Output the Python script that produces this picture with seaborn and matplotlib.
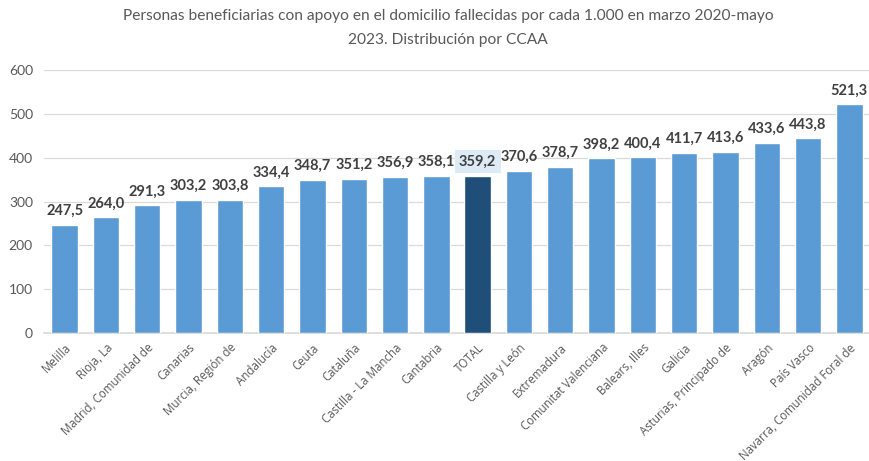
import matplotlib
matplotlib.use("Agg")
import matplotlib.pyplot as plt
import seaborn as sns
import pandas as pd

regiones = ["Melilla", "Rioja, La", "Madrid, Comunidad de", "Canarias", "Murcia, Región de",
            "Andalucía", "Ceuta", "Cataluña", "Castilla - La Mancha", "Cantabria", "TOTAL",
            "Castilla y León", "Extremadura", "Comunitat Valenciana", "Balears, Illes", "Galicia",
            "Asturias, Principado de", "Aragón", "País Vasco", "Navarra, Comunidad Foral de"]
valores = [247.5, 264.0, 291.3, 303.2, 303.8, 334.4, 348.7, 351.2, 356.9, 358.1, 359.2,
           370.6, 378.7, 398.2, 400.4, 411.7, 413.6, 433.6, 443.8, 521.3]
etiquetas_y = [0, 100, 200, 300, 400, 500, 600]

df = pd.DataFrame({"region": regiones, "valor": valores})
colores = ["#1F4E79" if r == "TOTAL" else "#5B9BD5" for r in regiones]

sns.set_theme(style="white")
plt.rcParams["font.family"] = ["Lato", "DejaVu Sans"]

fig = plt.figure(figsize=(8.7, 4.61), dpi=100)
ax = fig.add_axes([44 / 870, 1 - 333 / 461, 826 / 870, 263 / 461])

sns.barplot(data=df, x="region", y="valor", hue="region", palette=colores,
            saturation=1, legend=False, width=0.64, ax=ax, zorder=3)

ax.set_ylim(0, 600)
ax.set_xlim(-0.5, len(regiones) - 0.5)
ax.set_yticks(etiquetas_y)
ax.set_yticklabels([str(v) for v in etiquetas_y], fontsize=10, color="#595959")
ax.yaxis.grid(True, color="#D9D9D9", linewidth=0.9, zorder=0)
ax.set_xlabel("")
ax.set_ylabel("")
for s in ["top", "right", "left"]:
    ax.spines[s].set_visible(False)
ax.spines["bottom"].set_color("#D9D9D9")
ax.tick_params(axis="y", length=0, pad=8)
ax.tick_params(axis="x", length=0, pad=6)
ax.set_xticks(range(len(regiones)))
ax.set_xticklabels(regiones, rotation=45, ha="right", rotation_mode="anchor",
                   fontsize=8.3, color="#595959", family=["Open Sans", "DejaVu Sans"])

for i, (r, v) in enumerate(zip(regiones, valores)):
    txt = f"{v:.1f}".replace(".", ",")
    kw = {}
    if r == "TOTAL":
        kw["bbox"] = dict(boxstyle="square,pad=0.3", fc="#DDEBF7", ec="none")
    ax.annotate(txt, (i, v), xytext=(0, 5), textcoords="offset points",
                ha="center", va="bottom", fontsize=10.5, fontweight="bold",
                color="#404040", **kw)

fig.suptitle("Personas beneficiarias con apoyo en el domicilio fallecidas por cada 1.000 en marzo 2020-mayo\n2023. Distribución por CCAA",
             x=0.515, y=0.98, fontsize=11.2, color="#595959", linespacing=1.85)

fig.savefig("out.png", dpi=100)
